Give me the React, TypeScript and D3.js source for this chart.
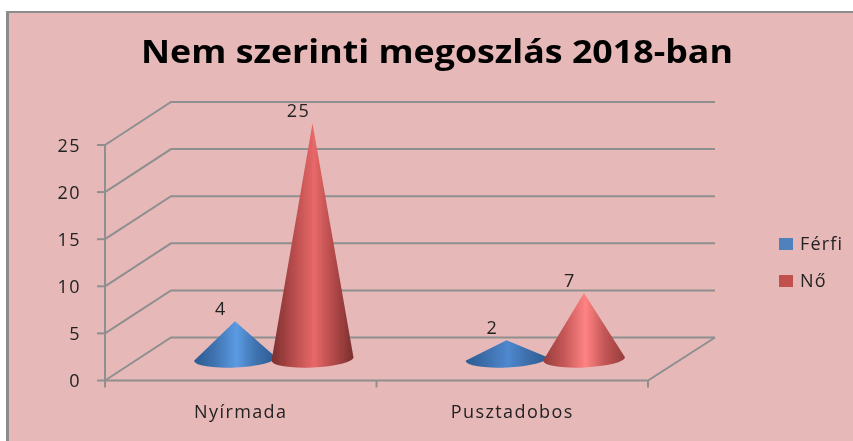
import React from 'react';
import * as d3 from 'd3';

const categories = ['Nyírmada', 'Pusztadobos'];
const seriesNames = ['Férfi', 'Nő'];
const ferfi = [4, 2];
const no = [25, 7];
const yTicks = [0, 5, 10, 15, 20, 25];

const width = 853;
const height = 441;
const font = '"Open Sans", sans-serif';
const gridColor = '#8f8f8f';
const textColor = '#222';

// floor depth of the fake 3d box
const depthX = 66;
const depthY = -43;
const coneRx = 41;
const coneRy = 8.5;
const tilt = -2.6;

const legendColors = ['#4f81bd', '#c0504d'];
const coneStops = [
  [['#2c5a92', '#3f73b0', '#5b9be2'], ['#2c5b92', '#3d6fac', '#4f88cf']],
  [['#7c2e2e', '#b44a4a', '#e86868'], ['#963c3c', '#c45656', '#ff8383']],
];

const App = () => {
  const y = d3.scaleLinear().domain([0, 25]).range([380.5, 145]);
  const x0 = d3.scaleBand<string>().domain(categories).range([105, 648]);
  const mid = x0.bandwidth() / 2;
  const x1 = d3.scalePoint<string>().domain(seriesNames).range([mid - 38.75, mid + 38.75]);
  const values = [ferfi, no];
  const rad = (tilt * Math.PI) / 180;

  const cones = seriesNames.flatMap((s, si) =>
    categories.map((c, ci) => {
      const v = values[si][ci];
      const cx = x0(c)! + x1(s)! + depthX / 2;
      const cy = y(0) + depthY / 2;
      const apexY = y(v) + depthY / 2;
      const dx = coneRx * Math.cos(rad);
      const dy = coneRx * Math.sin(rad);
      const p = d3.path();
      p.moveTo(cx - dx, cy - dy);
      p.lineTo(cx, apexY);
      p.lineTo(cx + dx, cy + dy);
      const d = `${p.toString()} A${coneRx},${coneRy} ${tilt} 0 1 ${cx - dx},${cy - dy} Z`;
      return { id: `cone-${si}-${ci}`, si, ci, v, cx, apexY, d };
    })
  );

  return (
    <svg width={width} height={height} style={{ position: 'absolute', left: 0, top: 0 }}>
      <defs>
        <filter id="soft"><feGaussianBlur stdDeviation="0.5" /></filter>
        {cones.map(k => {
          const [edge, body, light] = coneStops[k.si][k.ci];
          return (
            <linearGradient key={k.id} id={k.id} x1="0" x2="1" y1="0" y2="0">
              <stop offset="0" stopColor={edge} />
              <stop offset="0.25" stopColor={body} />
              <stop offset="0.52" stopColor={light} />
              <stop offset="0.75" stopColor={body} />
              <stop offset="1" stopColor={edge} />
            </linearGradient>
          );
        })}
      </defs>
      <rect x={7} y={12} width={width} height={height} fill="#e6b8b7" />
      <line x1={6} x2={width} y1={12} y2={12} stroke="#8c8c8c" strokeWidth={2} />
      <line x1={7.5} x2={7.5} y1={11} y2={height} stroke="#8c8c8c" strokeWidth={3} />

      <g filter="url(#soft)">
        {/* the original title is stretched sideways */}
        <text x={141} y={63} textLength={592} lengthAdjust="spacingAndGlyphs" fontFamily={font} fontWeight={700} fontSize={33} fill="#000">
          Nem szerinti megoszlás 2018-ban
        </text>

        {/* walls */}
        {yTicks.map(t => (
          <g key={t} stroke={gridColor} strokeWidth={2} fill="none">
            <path d={`M105,${y(t)} L${105 + depthX},${y(t) + depthY} L715,${y(t) + depthY}`} />
            <line x1={97} x2={105} y1={y(t)} y2={y(t)} />
          </g>
        ))}
        <g stroke={gridColor} strokeWidth={2} fill="none">
          <line x1={105} x2={105} y1={y(25)} y2={y(0) + 7} />
          <path d={`M105,${y(0)} L648,${y(0)} L715,${y(0) + depthY}`} />
          {categories.map(c => x0(c)! + x0.bandwidth()).map(t => (
            <line key={t} x1={t} x2={t} y1={y(0)} y2={y(0) + 7} />
          ))}
        </g>

        {yTicks.map(t => (
          <text key={t} x={81} y={y(t) + 6.5} textAnchor="end" fontFamily={font} fontSize={18} letterSpacing={1.5} fill={textColor}>
            {t}
          </text>
        ))}
        {categories.map(c => (
          <text key={c} x={x0(c)! + mid} y={418} textAnchor="middle" fontFamily={font} fontSize={18} letterSpacing={1.4} fill={textColor}>
            {c}
          </text>
        ))}

        {cones.map(k => (
          <path key={k.id} d={k.d} fill={`url(#${k.id})`} />
        ))}
        {cones.map(k => (
          <text key={k.id} x={k.cx - 14} y={k.apexY - 6.5} textAnchor="middle" fontFamily={font} fontSize={18} letterSpacing={1.5} fill={textColor}>
            {k.v}
          </text>
        ))}

        {seriesNames.map((s, i) => (
          <g key={s}>
            <rect x={779} y={238 + i * 37} width={14} height={12} fill={legendColors[i]} />
            <text x={800} y={250 + i * 37} fontFamily={font} fontSize={18} letterSpacing={1.2} fill={textColor}>
              {s}
            </text>
          </g>
        ))}
      </g>
    </svg>
  );
};

export default App;
